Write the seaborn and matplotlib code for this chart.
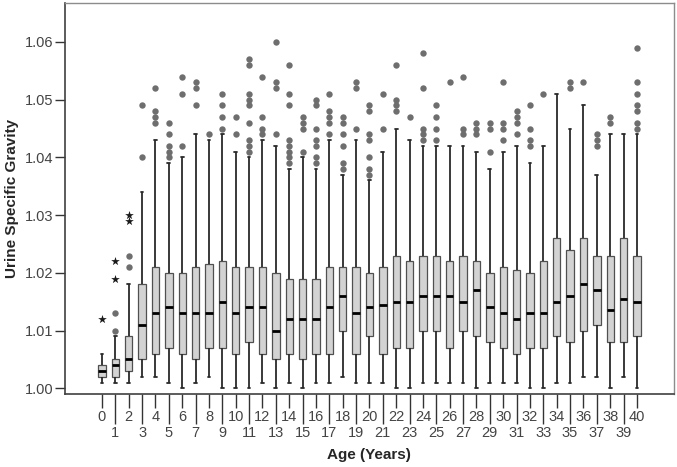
import matplotlib
matplotlib.use('Agg')
import matplotlib.pyplot as plt
import numpy as np
import pandas as pd
import seaborn as sns

ages = list(range(41))

# five-number summaries (whisker ends, quartiles, median)
whisk_lo = [1.001, 1.001, 1.001, 1.002, 1.002, 1.001, 1.000, 1.001, 1.002, 1.000, 1.000,
            1.000, 1.001, 1.000, 1.001, 1.000, 1.001, 1.001, 1.002, 1.001, 1.001,
            1.001, 1.000, 1.000, 1.001, 1.001, 1.001, 1.001, 1.000, 1.001, 1.001,
            1.001, 1.000, 1.000, 1.001, 1.001, 1.002, 1.002, 1.000, 1.002, 1.000]
q1 = [1.002, 1.002, 1.003, 1.005, 1.006, 1.007, 1.006, 1.005, 1.007, 1.007, 1.006,
      1.008, 1.006, 1.005, 1.006, 1.005, 1.006, 1.006, 1.010, 1.006, 1.009,
      1.006, 1.007, 1.007, 1.010, 1.010, 1.007, 1.010, 1.009, 1.008, 1.007,
      1.006, 1.007, 1.007, 1.009, 1.008, 1.010, 1.011, 1.008, 1.008, 1.009]
med = [1.003, 1.004, 1.005, 1.011, 1.013, 1.014, 1.013, 1.013, 1.013, 1.015, 1.013,
       1.014, 1.014, 1.010, 1.012, 1.012, 1.012, 1.014, 1.016, 1.013, 1.014,
       1.0145, 1.015, 1.015, 1.016, 1.016, 1.016, 1.015, 1.017, 1.014, 1.013,
       1.012, 1.013, 1.013, 1.015, 1.016, 1.018, 1.017, 1.0135, 1.0155, 1.015]
q3 = [1.004, 1.005, 1.009, 1.018, 1.021, 1.020, 1.020, 1.021, 1.0215, 1.022, 1.021,
      1.021, 1.021, 1.020, 1.019, 1.019, 1.019, 1.021, 1.021, 1.021, 1.020,
      1.021, 1.023, 1.022, 1.023, 1.023, 1.022, 1.023, 1.022, 1.020, 1.021,
      1.0205, 1.020, 1.022, 1.026, 1.024, 1.026, 1.023, 1.023, 1.026, 1.023]
whisk_hi = [1.006, 1.009, 1.018, 1.034, 1.043, 1.039, 1.040, 1.044, 1.043, 1.044, 1.041,
            1.040, 1.043, 1.042, 1.038, 1.040, 1.038, 1.043, 1.037, 1.043, 1.036,
            1.041, 1.045, 1.043, 1.042, 1.042, 1.042, 1.042, 1.041, 1.038, 1.041,
            1.042, 1.039, 1.042, 1.051, 1.045, 1.049, 1.037, 1.044, 1.044, 1.044]

# outliers (circles) and extreme values (stars)
outliers = {
    1: [1.010, 1.013], 2: [1.021, 1.023], 3: [1.040, 1.049],
    4: [1.046, 1.047, 1.048, 1.052], 5: [1.040, 1.041, 1.042, 1.044, 1.046],
    6: [1.042, 1.051, 1.054], 7: [1.049, 1.052, 1.053], 8: [1.044],
    9: [1.045, 1.047, 1.049, 1.051], 10: [1.044, 1.047],
    11: [1.041, 1.042, 1.043, 1.046, 1.049, 1.050, 1.051, 1.056, 1.057],
    12: [1.044, 1.045, 1.047, 1.054], 13: [1.044, 1.052, 1.053, 1.060],
    14: [1.039, 1.040, 1.041, 1.042, 1.043, 1.049, 1.051, 1.056],
    15: [1.041, 1.045, 1.046, 1.047],
    16: [1.039, 1.040, 1.042, 1.043, 1.045, 1.049, 1.050],
    17: [1.044, 1.046, 1.047, 1.048, 1.051],
    18: [1.038, 1.039, 1.042, 1.044, 1.046, 1.047],
    19: [1.045, 1.052, 1.053],
    20: [1.037, 1.038, 1.040, 1.043, 1.044, 1.048, 1.049],
    21: [1.045, 1.051], 22: [1.048, 1.049, 1.050, 1.056], 23: [1.047],
    24: [1.043, 1.044, 1.045, 1.052, 1.058], 25: [1.043, 1.045, 1.047, 1.049],
    26: [1.053], 27: [1.044, 1.045, 1.054], 28: [1.044, 1.045, 1.046],
    29: [1.041, 1.045, 1.046], 30: [1.043, 1.045, 1.046, 1.053],
    31: [1.044, 1.046, 1.047, 1.048], 32: [1.042, 1.043, 1.045, 1.049],
    33: [1.051], 35: [1.052, 1.053], 36: [1.053], 37: [1.042, 1.043, 1.044],
    38: [1.046, 1.047], 40: [1.045, 1.046, 1.048, 1.049, 1.051, 1.053, 1.059],
}
extremes = {0: [1.012], 1: [1.019, 1.022], 2: [1.029, 1.030]}

box_df = pd.DataFrame({
    'age': np.repeat(ages, 5),
    'sg': np.column_stack([whisk_lo, q1, med, q3, whisk_hi]).ravel(),
})
out_df = pd.DataFrame([(a, v) for a, vals in outliers.items() for v in vals], columns=['age', 'sg'])
ext_df = pd.DataFrame([(a, v) for a, vals in extremes.items() for v in vals], columns=['age', 'sg'])

sns.set_style('white')
plt.rcParams['font.family'] = ['Liberation Sans', 'DejaVu Sans']

fig, ax = plt.subplots(figsize=(6.77, 4.67), dpi=100)
fig.subplots_adjust(left=64.5 / 677, right=674 / 677, bottom=1 - 394.3 / 467, top=1 - 2.7 / 467)

sns.boxplot(data=box_df, x='age', y='sg', order=ages, whis=(0, 100), showfliers=False,
            width=0.55, color='#d3d3d3', linecolor='#505050', linewidth=0.9,
            medianprops=dict(color='black', linewidth=2.0),
            whiskerprops=dict(color='#2a2a2a', linewidth=1.3),
            capprops=dict(color='#2a2a2a', linewidth=1.3),
            capwidths=0.2, ax=ax)
sns.stripplot(data=out_df, x='age', y='sg', order=ages, jitter=False,
              color='#6e6e6e', size=4.6, linewidth=0, ax=ax)
sns.stripplot(data=ext_df, x='age', y='sg', order=ages, jitter=False,
              color='#1a1a1a', marker='*', size=6.5, linewidth=0, ax=ax)

ax.set_xlim(-2.8, 42.77)
ax.set_ylim(0.99896, 1.0668)
ax.set_yticks([1.00, 1.01, 1.02, 1.03, 1.04, 1.05, 1.06])
ax.set_yticklabels(['1.00', '1.01', '1.02', '1.03', '1.04', '1.05', '1.06'])

ax.set_xticks(ages[0::2])
ax.set_xticklabels([str(a) for a in ages[0::2]])
ax.set_xticks(ages[1::2], minor=True)
ax.set_xticklabels([str(a) for a in ages[1::2]], minor=True)

ax.tick_params(axis='x', which='major', length=10, width=1, color='#333333',
               pad=1, labelsize=10.5, labelcolor='#444444', bottom=True)
ax.tick_params(axis='x', which='minor', length=21.5, width=1, color='#333333',
               pad=1, labelsize=10.5, labelcolor='#444444', bottom=True)
ax.tick_params(axis='y', length=7, width=1, color='#333333', pad=1,
               labelsize=10.5, labelcolor='#444444', left=True)

for side in ['left', 'bottom']:
    ax.spines[side].set_color('#404040')
    ax.spines[side].set_linewidth(1.2)
for side in ['top', 'right']:
    ax.spines[side].set_color('#8c8c8c')
    ax.spines[side].set_linewidth(1.0)

ax.set_xlabel('Age (Years)', fontsize=11, fontweight='bold', labelpad=6)
ax.set_ylabel('Urine Specific Gravity', fontsize=11, fontweight='bold', labelpad=4)

plt.savefig('out.png', dpi=100)
